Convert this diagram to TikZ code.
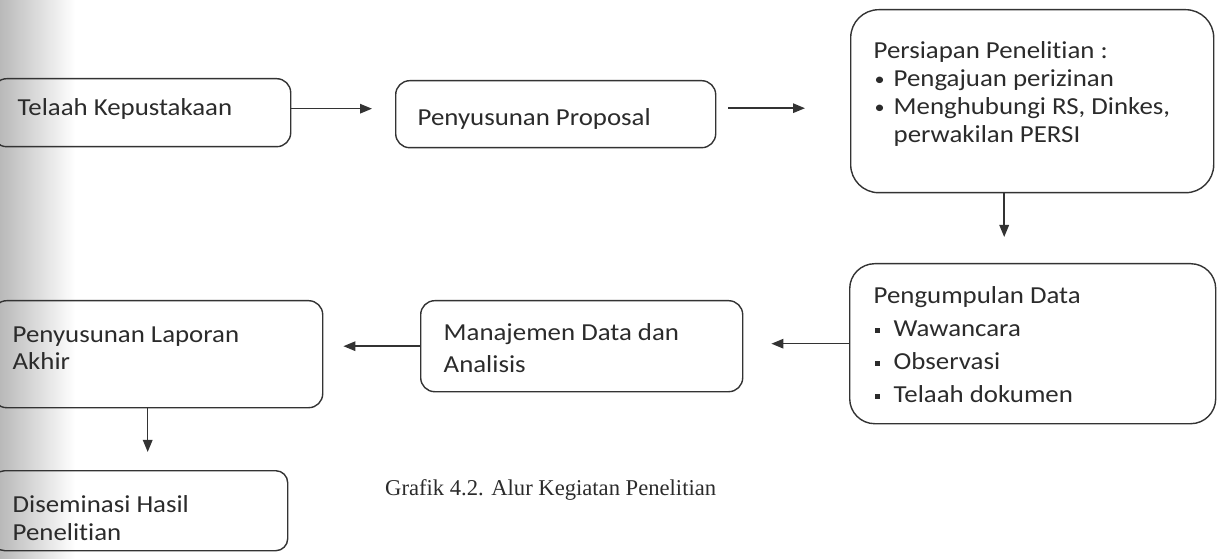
\documentclass[tikz,border=0pt]{standalone}
\usepackage{fontspec}
\setmainfont{Liberation Serif}
\newfontfamily\boxfont[Ligatures={NoCommon,NoContextual},FakeStretch=1.1]{Carlito}
\usetikzlibrary{arrows.meta}
\definecolor{ink}{HTML}{333333}
\definecolor{txt}{HTML}{2B2B2B}
% width, height, top pad, left pad, line pitch, content
\newcommand\bxtext[6]{\parbox[c][#2][t]{#1}{\boxfont\fontsize{24.5}{#5}\selectfont
  \leftskip=#4\relax\rightskip=0pt plus 1fil\relax\parindent=0pt\vspace*{#3}#6}}
\newcommand\rbul{\makebox[20bp][l]{\hspace{1bp}\raisebox{1bp}{\scalebox{0.75}{\textbullet}}}}
\newcommand\sbul{\makebox[20bp][l]{\hspace{1bp}\raisebox{3.5bp}{\rule{5.5bp}{5.5bp}}}}
\begin{document}
\begin{tikzpicture}[x=1bp,y=-1bp,
  box/.style={draw=ink, line width=1.4bp, rounded corners=14bp, inner sep=0pt,
    anchor=north west, text=txt},
  arr/.style={draw=ink, line width=1.5bp, -{Triangle[length=12bp,width=9.5bp]}},
]
\useasboundingbox (0,0) rectangle (1221,559);
\shade[left color=gray!55, right color=white] (0,0) rectangle (75,559);

\node[box] (b1) at (-8,78) {\bxtext{298bp}{68bp}{20bp}{25bp}{28bp}{Telaah Kepustakaan}};
\node[box] (b2) at (395,80) {\bxtext{320bp}{67bp}{28bp}{22bp}{28bp}{Penyusunan Proposal}};
\node[box, rounded corners=28bp] (b3) at (850,9) {\bxtext{363bp}{183bp}{32bp}{23bp}{28bp}{%
  Persiapan Penelitian :\par
  \rbul Pengajuan perizinan\par
  \hangindent=20bp\hangafter=1 \rbul Menghubungi RS, Dinkes,\\perwakilan PERSI\par}};
\node[box, rounded corners=25bp] (b4) at (849,263) {\bxtext{366bp}{160bp}{23bp}{24bp}{33bp}{%
  Pengumpulan Data\par
  \sbul Wawancara\par
  \sbul Observasi\par
  \sbul Telaah dokumen\par}};
\node[box] (b5) at (420,300) {\bxtext{322bp}{91bp}{23bp}{23bp}{32bp}{%
  Manajemen Data dan\par Analisis\par}};
\node[box] (b6) at (-8,300) {\bxtext{330bp}{107bp}{26bp}{20bp}{27bp}{%
  Penyusunan Laporan\par Akhir\par}};
\node[box, rounded corners=12bp] (b7) at (-8,470) {\bxtext{295bp}{80bp}{25bp}{20bp}{28bp}{%
  Diseminasi Hasil\par Penelitian\par}};

\node[anchor=base west, inner sep=0pt, text=txt, font=\fontsize{22.7}{26}\selectfont] (cap) at (385,495) {Grafik 4.2. Alur Kegiatan Penelitian};

\draw[arr, shorten >=23bp] ([yshift=4bp]b1.east) -- ([yshift=4bp]b1.east -| b2.west);
\draw[arr, shorten <=12bp, shorten >=45bp] ([yshift=6bp]b2.east) -- ([yshift=6bp]b2.east -| b3.west);
\draw[arr, shorten >=26bp] ([xshift=-28bp]b3.south) -- ([xshift=-28bp]b3.south |- b4.north);
\draw[arr, shorten >=28bp] (b4.west) -- (b4.west -| b5.east);
\draw[arr, shorten >=20bp] (b5.west) -- (b5.west -| b6.east);
\draw[arr, shorten >=18bp] ([xshift=-10bp]b6.south) -- ([xshift=-10bp]b6.south |- b7.north);
\end{tikzpicture}
\end{document}
